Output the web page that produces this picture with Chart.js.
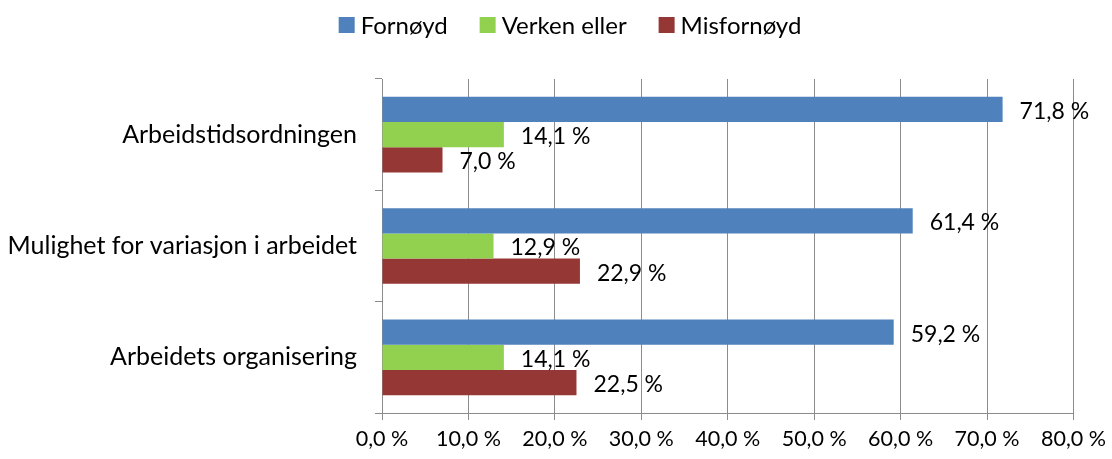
<!DOCTYPE html>
<html>
<head>
<meta charset="utf-8">
<script src="https://cdn.jsdelivr.net/npm/chart.js@4/dist/chart.umd.min.js"></script>
<style>
html,body{margin:0;padding:0;background:#fff;}
#wrap{width:1112px;height:459px;position:relative;}
</style>
</head>
<body>
<div id="wrap"><canvas id="c" width="1112" height="459"></canvas></div>
<script>
const categories = ["Arbeidstidsordningen", "Mulighet for variasjon i arbeidet", "Arbeidets organisering"];
const seriesNames = ["Fornøyd", "Verken eller", "Misfornøyd"];
const fornoyd = [71.8, 61.4, 59.2];
const verken = [14.1, 12.9, 14.1];
const misfornoyd = [7.0, 22.9, 22.5];
const xTicks = [0, 10, 20, 30, 40, 50, 60, 70, 80];
const colors = ["#4F81BD", "#92D050", "#953735"];

const FONT = "Lato, 'Liberation Sans', sans-serif";
const fmt = v => v.toFixed(1).replace('.', ',') + ' %';

const labelPlugin = {
  id: 'valueLabels',
  afterDatasetsDraw(chart) {
    const ctx = chart.ctx;
    ctx.save();
    ctx.font = "23px " + FONT;
    ctx.fillStyle = "#000";
    ctx.textAlign = "left";
    ctx.textBaseline = "middle";
    chart.data.datasets.forEach((ds, i) => {
      const meta = chart.getDatasetMeta(i);
      meta.data.forEach((bar, j) => {
        ctx.fillText(fmt(ds.data[j]), bar.x + 17, bar.y + 2);
      });
    });
    ctx.restore();
  }
};

const customLegend = {
  id: 'customLegend',
  afterDraw(chart) {
    const ctx = chart.ctx;
    ctx.save();
    ctx.font = "24px " + FONT;
    ctx.textBaseline = "middle";
    ctx.textAlign = "left";
    const box = 16, gap = 6, spacing = 32;
    const items = chart.data.datasets.map(ds => ({ text: ds.label, color: ds.backgroundColor, w: ctx.measureText(ds.label).width }));
    let total = 0;
    items.forEach((it, i) => { total += box + gap + it.w + (i < items.length - 1 ? spacing : 0); });
    let x = 570 - total / 2;
    const y = 25;
    items.forEach(it => {
      ctx.fillStyle = it.color;
      ctx.fillRect(x, y - 8, box, box);
      ctx.fillStyle = "#000";
      ctx.fillText(it.text, x + box + gap, y + 1);
      x += box + gap + it.w + spacing;
    });
    ctx.restore();
  }
};

new Chart(document.getElementById('c'), {
  type: 'bar',
  data: {
    labels: categories,
    datasets: [
      { label: seriesNames[0], data: fornoyd, backgroundColor: colors[0] },
      { label: seriesNames[1], data: verken, backgroundColor: colors[1] },
      { label: seriesNames[2], data: misfornoyd, backgroundColor: colors[2] }
    ]
  },
  options: {
    indexAxis: 'y',
    responsive: false,
    animation: false,
    layout: { padding: { left: 0, right: 38, top: 79, bottom: 0 } },
    datasets: { bar: { barPercentage: 1.0, categoryPercentage: 0.68 } },
    plugins: {
      legend: { display: false },
      tooltip: { enabled: false }
    },
    scales: {
      x: {
        min: 0, max: 80,
        afterBuildTicks(scale) { scale.ticks = xTicks.map(v => ({ value: v })); },
        afterFit(scale) { scale.height = 46; },
        ticks: {
          callback: v => fmt(v),
          font: { family: FONT, size: 21.5 },
          color: '#000',
          padding: 6,
          maxRotation: 0
        },
        grid: { color: '#8C8C8C', lineWidth: 1, tickLength: 7 },
        border: { color: '#8C8C8C' }
      },
      y: {
        afterFit(scale) { scale.width = 382; },
        ticks: {
          font: { family: FONT, size: 25 },
          color: '#000',
          padding: 18
        },
        grid: { offset: true, drawOnChartArea: false, color: '#8C8C8C', tickLength: 7 },
        border: { color: '#8C8C8C' }
      }
    }
  },
  plugins: [labelPlugin, customLegend]
});
</script>
</body>
</html>
